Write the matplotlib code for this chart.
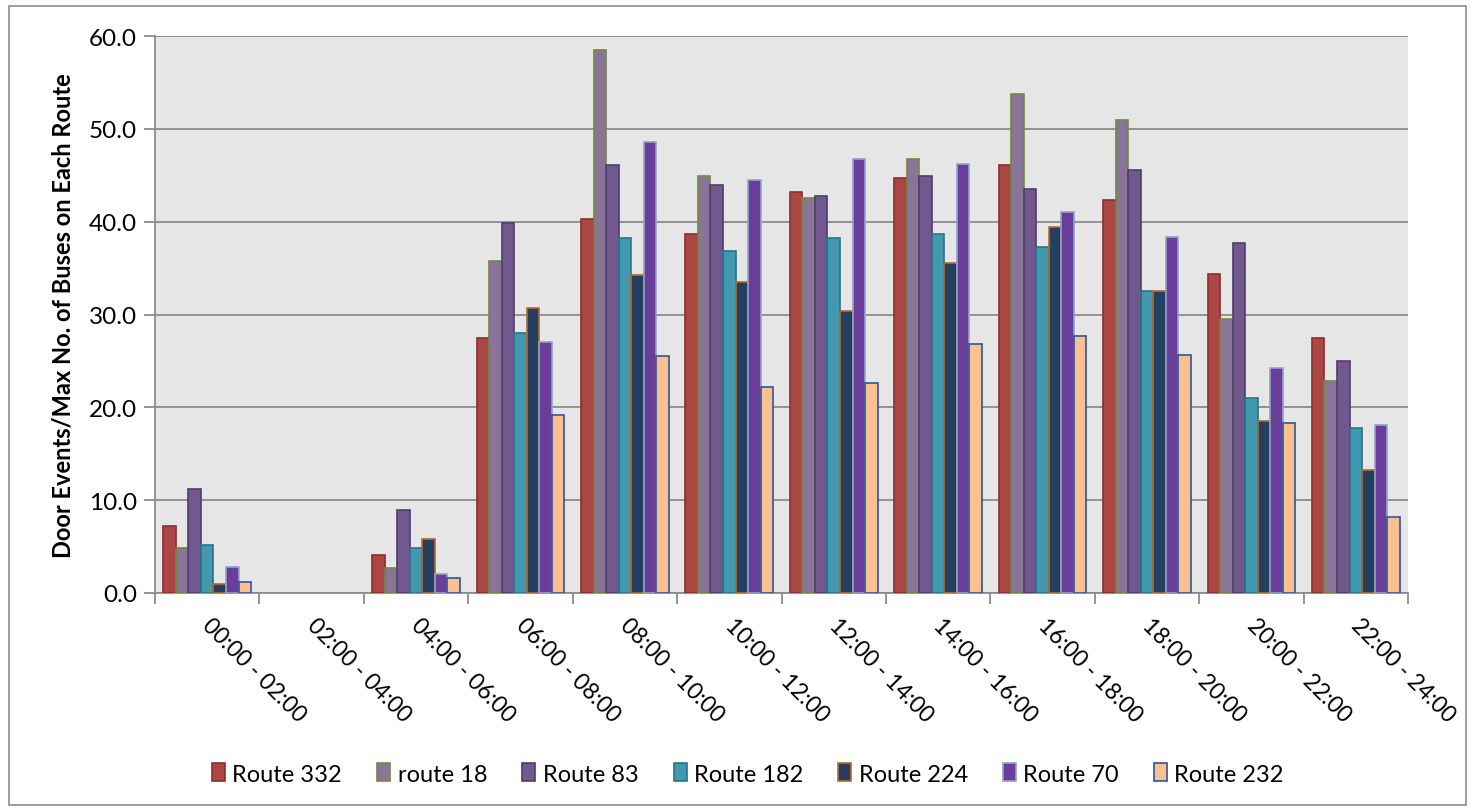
import matplotlib
matplotlib.use("Agg")
import matplotlib.pyplot as plt
import numpy as np
from matplotlib.patches import Rectangle

plt.rcParams['font.family'] = ['Lato', 'DejaVu Sans']

categories = ["00:00 - 02:00", "02:00 - 04:00", "04:00 - 06:00", "06:00 - 08:00",
              "08:00 - 10:00", "10:00 - 12:00", "12:00 - 14:00", "14:00 - 16:00",
              "16:00 - 18:00", "18:00 - 20:00", "20:00 - 22:00", "22:00 - 24:00"]

series_names = ["Route 332", "route 18", "Route 83", "Route 182", "Route 224", "Route 70", "Route 232"]

route_332 = [7.2, 0, 4.1, 27.5, 40.3, 38.7, 43.2, 44.7, 46.1, 42.3, 34.4, 27.5]
route_18 = [4.9, 0, 2.7, 35.8, 58.5, 44.9, 42.6, 46.8, 53.8, 51.0, 29.5, 22.8]
route_83 = [11.2, 0, 8.9, 39.9, 46.1, 44.0, 42.8, 44.9, 43.5, 45.6, 37.7, 25.0]
route_182 = [5.2, 0, 4.8, 28.0, 38.2, 36.8, 38.2, 38.7, 37.3, 32.5, 21.0, 17.8]
route_224 = [1.0, 0, 5.8, 30.7, 34.3, 33.5, 30.4, 35.5, 39.4, 32.5, 18.5, 13.3]
route_70 = [2.8, 0, 2.0, 27.0, 48.6, 44.5, 46.8, 46.2, 41.0, 38.3, 24.2, 18.1]
route_232 = [1.2, 0, 1.6, 19.2, 25.5, 22.2, 22.6, 26.8, 27.7, 25.6, 18.3, 8.2]

values = [route_332, route_18, route_83, route_182, route_224, route_70, route_232]

fill_colors = ["#AA4643", "#8A7599", "#71588F", "#4198AF", "#243F60", "#6A3D9A", "#FAC090"]
edge_colors = ["#8B2E2C", "#71893F", "#4E3D6B", "#2A7487", "#B7692A", "#8EA4C8", "#2F5597"]

fig = plt.figure(figsize=(14.72, 8.12), dpi=100)
# outer chart border
fig.patches.append(Rectangle((9/1472, 1 - 806/812), (1466-9)/1472, (806-7)/812,
                             transform=fig.transFigure, fill=False,
                             edgecolor="#8C8C8C", linewidth=1.2))

ax = fig.add_axes([155/1472, 1 - 594/812, (1408-155)/1472, (594-37)/812])
ax.set_facecolor("#E6E6E6")

n = len(series_names)
x = np.arange(len(categories))
bw = 0.12
for i, (name, vals) in enumerate(zip(series_names, values)):
    offs = (i - (n - 1) / 2) * bw
    lws = [1.2 if v > 0 else 0 for v in vals]
    ax.bar(x + offs, vals, width=bw, color=fill_colors[i], edgecolor=edge_colors[i],
           linewidth=lws, label=name, zorder=3)

ax.set_xlim(-0.5, len(categories) - 0.5)
ax.set_ylim(0, 60)
ax.set_yticks(np.arange(0, 61, 10))
ax.set_yticklabels([f"{v:.1f}" for v in np.arange(0, 61, 10)], fontsize=17.5)
ax.yaxis.grid(True, color="#8C8C8C", linewidth=1.3, zorder=0)
ax.set_axisbelow(True)

ax.set_xticks(np.arange(-0.5, len(categories)), minor=False)
ax.set_xticklabels([])
ax.tick_params(axis='x', length=8, color="#8C8C8C", width=1.3)
ax.tick_params(axis='y', length=8, color="#8C8C8C", width=1.3, pad=5)

for s in ["top", "right"]:
    ax.spines[s].set_visible(False)
for s in ["left", "bottom"]:
    ax.spines[s].set_color("#8C8C8C")
    ax.spines[s].set_linewidth(1.3)

for xi, lab in zip(x, categories):
    ax.text(xi + 0.06, -2.3, lab, rotation=-45, rotation_mode='anchor',
            ha='left', va='top', fontsize=16.5, transform=ax.transData)

ax.set_ylabel("Door Events/Max No. of Buses on Each Route", fontsize=17,
              fontweight='bold', labelpad=10)

leg = fig.legend(loc='center', bbox_to_anchor=(748/1472, 1 - 775/812), ncol=7,
                 frameon=False, fontsize=17, handlelength=0.55, handleheight=0.8,
                 handletextpad=0.3, columnspacing=1.5)

fig.savefig("out.png", dpi=100)
